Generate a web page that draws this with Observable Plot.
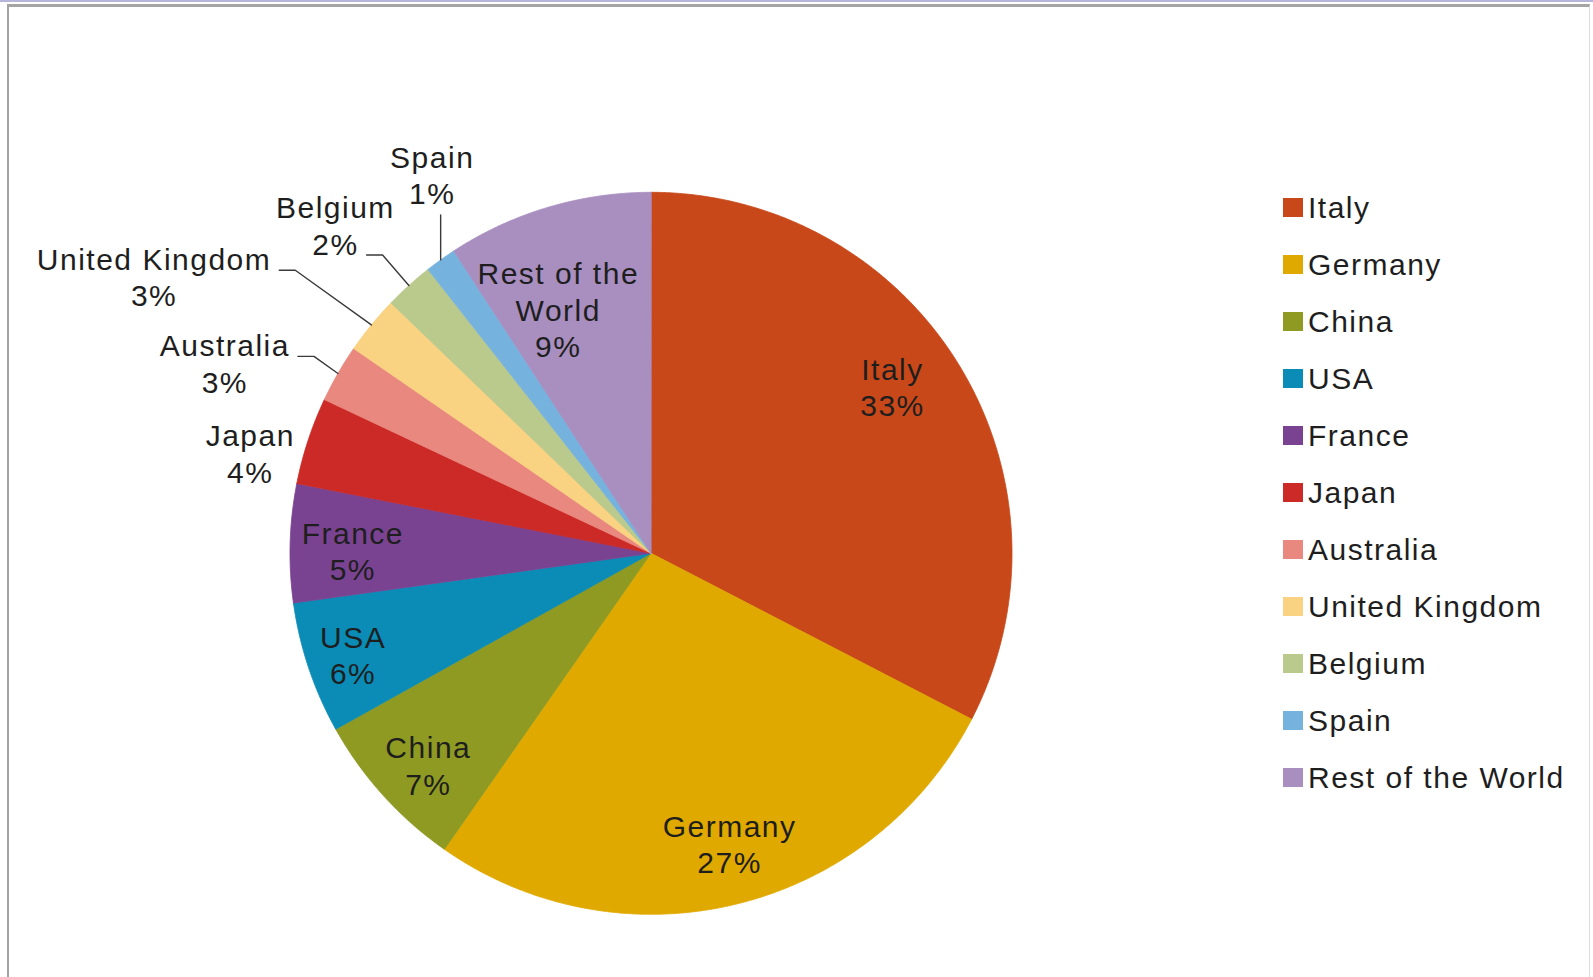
<!DOCTYPE html>
<html>
<head>
<meta charset="utf-8">
<script src="https://cdn.jsdelivr.net/npm/d3@7"></script>
<script src="https://cdn.jsdelivr.net/npm/@observablehq/plot@0.6"></script>
<style>
html, body { margin: 0; padding: 0; background: #fff; overflow: hidden; }
#wrap { position: relative; width: 1593px; height: 977px; }
#chart { position: absolute; left: 0; top: 0; }
#topline { position: absolute; left: 0; top: 0; width: 1593px; height: 2px; background: #b6b6dc; z-index: 3; }
#frame { position: absolute; left: 7px; top: 4px; width: 1580px; height: 1000px;
  border-top: 3px solid #a4a4a4; border-left: 2px solid #a4a4a4; border-right: 1px solid #dcdcdc; z-index: 2; pointer-events: none; }
#legend { position: absolute; left: 0; top: 0; z-index: 4;
  font-family: "Liberation Sans", Arial, sans-serif; font-size: 30px; letter-spacing: 1.5px; color: #1e1e1e; }
.item { position: absolute; height: 40px; line-height: 40px; white-space: nowrap; display: flex; align-items: center; }
.sw { width: 20px; height: 19px; margin-right: 5px; flex: none; }
</style>
</head>
<body>
<div id="wrap">
  <div id="chart"></div>
  <div id="topline"></div>
  <div id="frame"></div>
  <div id="legend"></div>
</div>
<script>
// ---- data ----
const countries = ["Italy", "Germany", "China", "USA", "France", "Japan", "Australia", "United Kingdom", "Belgium", "Spain", "Rest of the World"];
const labelNames = ["Italy", "Germany", "China", "USA", "France", "Japan", "Australia", "United Kingdom", "Belgium", "Spain", "Rest of the\nWorld"];
const shares = [32.6, 27.1, 7.2, 5.9, 5.3, 3.9, 2.6, 2.6, 2.2, 1.4, 9.2];
const colors = ["#C8481A", "#E0A900", "#8E9A22", "#0A8CB6", "#7A4392", "#CC2A26", "#E8887E", "#F9D282", "#BAC98C", "#76B2DE", "#A98EC0"];

// ---- layout (pixels / polar placement of data labels) ----
const W = 1593, H = 977, CX = 650.5, CY = 552.8, R = 361;
const FONT = 30, LS = 1.5, LINE_H = 36.5;
const labelPlace = {
  "Italy": {r: 0.81, da: -3.0},
  "Germany": {r: 0.838, da: -1.2},
  "China": {r: 0.855, da: -1.7},
  "USA": {r: 0.873, da: -0.5},
  "France": {r: 0.826, da: -1.4},
  "Japan": {r: 1.143, da: -4.4},
  "Australia": {r: 1.291, da: -6.0},
  "United Kingdom": {r: 1.573, da: -10.3},
  "Belgium": {r: 1.258, da: -1.9},
  "Spain": {r: 1.207, da: 5.5},
  "Rest of the World": {r: 0.718, da: -4.4}
};
const leaders = {
  "Australia": {kind: "elbow", row: 0},
  "United Kingdom": {kind: "elbow", row: 0},
  "Belgium": {kind: "elbow", row: 1},
  "Spain": {kind: "vertical"}
};

// ---- build ----
const rows = countries.map((name, i) => ({name, share: shares[i], label: labelNames[i]}));
const total = d3.sum(shares);
const pct = d3.format(".0%");
const arcs = d3.pie().sort(null).value(d => d.share)(rows);

const slicePts = [];
arcs.forEach(a => {
  const name = a.data.name;
  slicePts.push({name, x: 0, y: 0});
  const n = Math.max(2, Math.ceil((a.endAngle - a.startAngle) / (Math.PI / 360)));
  for (let k = 0; k <= n; k++) {
    const t = a.startAngle + (a.endAngle - a.startAngle) * k / n;
    slicePts.push({name, x: Math.sin(t), y: Math.cos(t)});
  }
});

const canvas = document.createElement("canvas");
const ctx = canvas.getContext("2d");
ctx.font = `${FONT}px "Liberation Sans", Arial, sans-serif`;
const textW = s => ctx.measureText(s).width + s.length * LS;

const labels = [];
const leaderPts = [];
arcs.forEach(a => {
  const d = a.data;
  const p = labelPlace[d.name];
  const mid = (a.startAngle + a.endAngle) / 2;
  const t = mid + p.da * Math.PI / 180;
  const lx = p.r * Math.sin(t), ly = p.r * Math.cos(t);
  const text = d.label + "\n" + pct(d.share / total);
  labels.push({name: d.name, x: lx, y: ly, text});
  const L = leaders[d.name];
  if (L) {
    const lines = text.split("\n");
    const rim = {x: Math.sin(mid), y: Math.cos(mid)};
    if (L.kind === "elbow") {
      const offPx = (L.row - (lines.length - 1) / 2) * LINE_H + 10;
      const sx = lx + (textW(lines[L.row]) / 2 + 8) / R;
      const sy = ly - offPx / R;
      leaderPts.push({name: d.name, x: sx, y: sy});
      leaderPts.push({name: d.name, x: sx + 16 / R, y: sy});
      leaderPts.push({name: d.name, x: rim.x, y: rim.y});
    } else {
      const by = ly - (lines.length * LINE_H / 2 + 2) / R;
      leaderPts.push({name: d.name, x: rim.x, y: by});
      leaderPts.push({name: d.name, x: rim.x, y: rim.y});
    }
  }
});

const chart = Plot.plot({
  width: W,
  height: H,
  margin: 0,
  style: {background: "transparent", fontFamily: '"Liberation Sans", Arial, sans-serif', letterSpacing: LS + "px"},
  x: {domain: [-CX / R, (W - CX) / R], axis: null},
  y: {domain: [-(H - CY) / R, CY / R], axis: null},
  color: {domain: countries, range: colors},
  marks: [
    Plot.line(slicePts, {x: "x", y: "y", z: "name", fill: "name", stroke: "name", strokeWidth: 0.8, curve: "linear-closed"}),
    Plot.line(leaderPts, {x: "x", y: "y", z: "name", stroke: "#3a3a3a", strokeWidth: 1.4}),
    Plot.text(labels, {x: "x", y: "y", text: "text", fontSize: FONT, lineHeight: LINE_H / FONT, dy: -2, fill: "#1e1e1e"})
  ]
});
document.getElementById("chart").appendChild(chart);

// ---- legend ----
const color = chart.scale("color");
const legend = document.getElementById("legend");
countries.forEach((name, i) => {
  const item = document.createElement("div");
  item.className = "item";
  item.style.left = "1283px";
  item.style.top = (207.5 + 57 * i - 20) + "px";
  const sw = document.createElement("span");
  sw.className = "sw";
  sw.style.background = color.apply(name);
  const tx = document.createElement("span");
  tx.textContent = name;
  item.appendChild(sw);
  item.appendChild(tx);
  legend.appendChild(item);
});
</script>
</body>
</html>
